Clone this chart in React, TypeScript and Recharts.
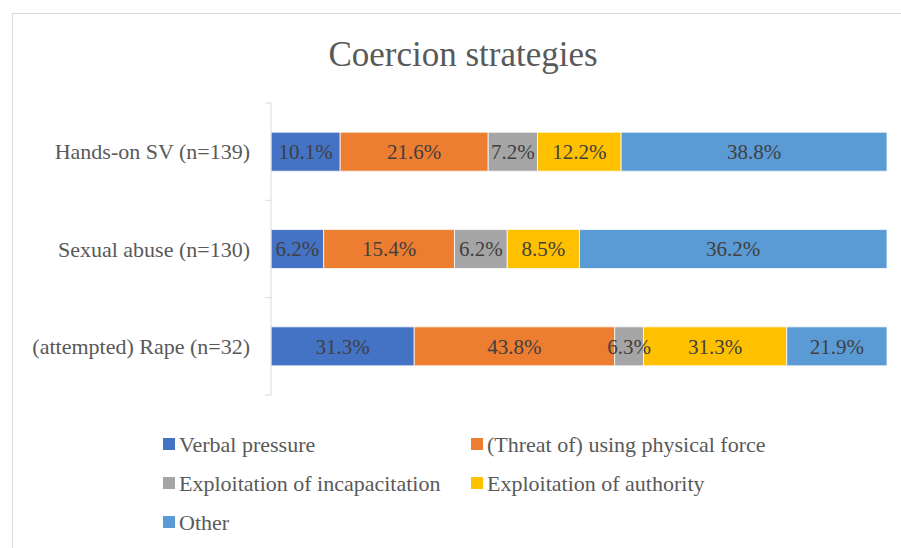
import React from 'react';
import { BarChart, Bar, XAxis, YAxis, LabelList } from 'recharts';

const categories = ['Hands-on SV (n=139)', 'Sexual abuse (n=130)', '(attempted) Rape (n=32)'];
const verbal = [10.1, 6.2, 31.3];
const force = [21.6, 15.4, 43.8];
const incapacitation = [7.2, 6.2, 6.3];
const authority = [12.2, 8.5, 31.3];
const other = [38.8, 36.2, 21.9];

const SERIES = [
  { key: 'verbal', name: 'Verbal pressure', color: '#4472C4' },
  { key: 'force', name: '(Threat of) using physical force', color: '#ED7D31' },
  { key: 'incapacitation', name: 'Exploitation of incapacitation', color: '#A5A5A5' },
  { key: 'authority', name: 'Exploitation of authority', color: '#FFC000' },
  { key: 'other', name: 'Other', color: '#5B9BD5' },
];

const data = categories.map((cat, i) => ({
  cat,
  verbal: verbal[i],
  force: force[i],
  incapacitation: incapacitation[i],
  authority: authority[i],
  other: other[i],
}));

const FONT = '"Liberation Serif", "Times New Roman", serif';
const TICK_SIZE = 6;
const TICK_MARGIN = 15;
const pct = (v: any) => `${Number(v).toFixed(1)}%`;

// category label + short tick marks at the band edges (like Excel)
function CatTick(props: any) {
  const { x, y, payload, index } = props;
  const axisX = x + TICK_SIZE + TICK_MARGIN;
  const half = payload.offset || 0;
  const last = index === categories.length - 1;
  return (
    <g>
      <line x1={axisX - TICK_SIZE} x2={axisX} y1={y - half} y2={y - half} stroke="#d9d9d9" />
      {last && <line x1={axisX - TICK_SIZE} x2={axisX} y1={y + half} y2={y + half} stroke="#d9d9d9" />}
      <text x={x} y={y} dy="0.355em" textAnchor="end" fontFamily={FONT} fontSize={22} fill="#595959">
        {payload.value}
      </text>
    </g>
  );
}

function LegendItem({ name, color }: { name: string; color: string }) {
  return (
    <div style={{ display: 'flex', alignItems: 'flex-start', height: 22 }}>
      <div style={{ width: 12, height: 12, background: color, marginTop: 4, marginRight: 4 }} />
      <span style={{ fontSize: 22, lineHeight: '22px', color: '#595959', whiteSpace: 'nowrap' }}>{name}</span>
    </div>
  );
}

export default function App() {
  const rows = [
    [SERIES[0], SERIES[1]],
    [SERIES[2], SERIES[3]],
    [SERIES[4]],
  ];
  return (
    <div
      style={{
        position: 'absolute',
        left: 12,
        top: 13,
        width: 900,
        height: 560,
        border: '1px solid #d9d9d9',
        background: '#fff',
        fontFamily: FONT,
      }}
    >
      <style>{'body{overflow:hidden}'}</style>
      <div
        style={{
          position: 'absolute',
          left: 0,
          top: 23,
          width: 900,
          textAlign: 'center',
          fontSize: 35,
          lineHeight: '35px',
          color: '#595959',
        }}
      >
        Coercion strategies
      </div>
      <BarChart
        width={880}
        height={535}
        data={data}
        layout="vertical"
        stackOffset="expand"
        barCategoryGap="30%"
        margin={{ top: 89, right: 6, bottom: 154, left: 0 }}
      >
        <XAxis type="number" hide domain={[0, 1]} />
        <YAxis
          type="category"
          dataKey="cat"
          width={258}
          axisLine={{ stroke: '#d9d9d9' }}
          tickLine={false}
          tickSize={TICK_SIZE}
          tickMargin={TICK_MARGIN}
          tick={<CatTick />}
        />
        {SERIES.map((s) => (
          <Bar
            key={s.key}
            dataKey={s.key}
            name={s.name}
            stackId="a"
            fill={s.color}
            stroke="#fff"
            strokeWidth={0.75}
            isAnimationActive={false}
          >
            <LabelList
              dataKey={s.key}
              position="center"
              formatter={pct}
              style={{ fontFamily: FONT, fontSize: 21, fill: '#404040' }}
            />
          </Bar>
        ))}
      </BarChart>
      {rows.map((row, r) => (
        <div key={r} style={{ position: 'absolute', top: 420 + r * 39, left: 0, width: 900, height: 22 }}>
          {row.map((s, c) => (
            <div key={s.key} style={{ position: 'absolute', left: c === 0 ? 150 : 458, top: 0 }}>
              <LegendItem name={s.name} color={s.color} />
            </div>
          ))}
        </div>
      ))}
    </div>
  );
}
